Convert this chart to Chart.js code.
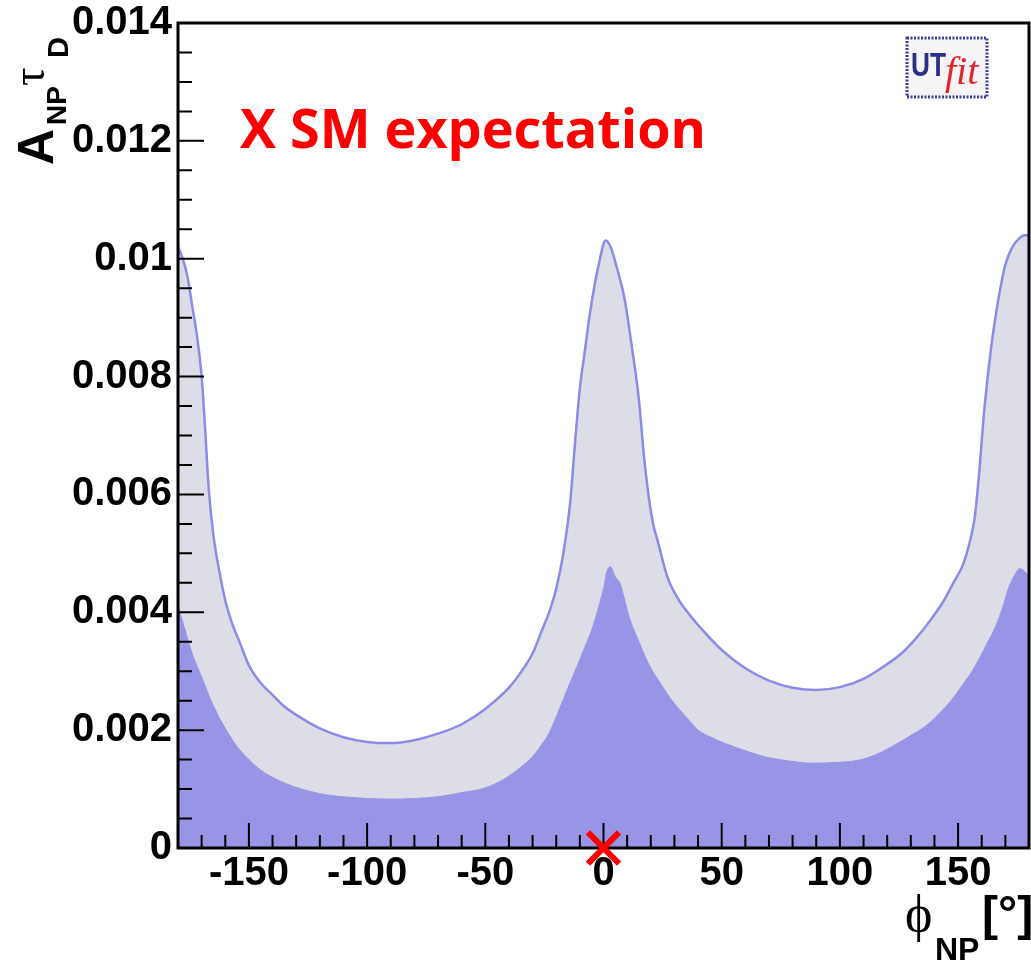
<!DOCTYPE html>
<html>
<head>
<meta charset="utf-8">
<script src="https://cdn.jsdelivr.net/npm/chart.js@4.4.1/dist/chart.umd.min.js"></script>
<style>
  html, body { margin: 0; padding: 0; background: #fff; }
  #phiPlot { display: block; }
</style>
</head>
<body>
<canvas id="phiPlot" width="1031" height="963" style="width:1031px;height:963px"></canvas>
<script>
// 95% probability region: upper edge of A_NP*tau_D vs phi_NP
const phi95 = [-180, -178, -176, -174, -172, -170, -168.5, -167, -165, -163, -160, -157, -154, -150,
  -145, -140, -135, -130, -120, -110, -100, -90, -80, -70, -60, -50, -40, -35, -30, -26, -23, -20,
  -17, -14, -12, -10, -8, -6, -4, -2, 0, 1, 3, 6, 9, 12, 15, 17, 19, 21, 23, 27, 32, 37, 43, 50,
  60, 70, 80, 90, 100, 110, 120, 126, 132, 138, 144, 148, 152, 155, 157, 159, 161, 164, 167, 170,
  173, 176, 178, 180];
const a95 = [0.0102, 0.0100, 0.0097, 0.0092, 0.0087, 0.0080, 0.0071, 0.0061, 0.0053, 0.0048, 0.0042,
  0.0038, 0.0035, 0.0031, 0.0028, 0.0026, 0.0024, 0.00226, 0.00203, 0.00188, 0.0018, 0.00178,
  0.00183, 0.00194, 0.0021, 0.00236, 0.00272, 0.00298, 0.0033, 0.0037, 0.0040, 0.0044, 0.0050,
  0.0059, 0.0069, 0.0078, 0.0084, 0.0090, 0.0095, 0.0099, 0.01025, 0.01031, 0.0102, 0.0098,
  0.0093, 0.0085, 0.0076, 0.0067, 0.0060, 0.0055, 0.0052, 0.0046, 0.0042, 0.00393, 0.00365,
  0.00336, 0.00305, 0.00284, 0.00272, 0.00268, 0.00273, 0.00287, 0.00312, 0.0033, 0.00355,
  0.00385, 0.0042, 0.0045, 0.0048, 0.0052, 0.0056, 0.0064, 0.0074, 0.0085, 0.0093, 0.0099,
  0.0102, 0.01035, 0.0104, 0.0104];

// 68% probability region
const phi68 = [-180, -177, -174, -170, -166, -162, -158, -155, -150, -145, -138, -131, -124, -117,
  -110, -100, -90, -80, -70, -60, -50, -42, -35, -30, -26, -23, -19, -15, -11, -8, -5, -2, 0, 1.5,
  3, 5, 7, 9, 11, 15, 19, 24, 29, 35, 40, 46, 51, 60, 68, 78, 88, 98, 108, 115, 122, 130, 136,
  142, 147, 152, 157, 162, 166, 169, 171.5, 174, 176, 178, 180];
const a68 = [0.0041, 0.0037, 0.0033, 0.0029, 0.0025, 0.00217, 0.0019, 0.00172, 0.0015, 0.00132,
  0.00116, 0.00104, 0.00096, 0.0009, 0.00087, 0.00084, 0.00083, 0.00084, 0.00087, 0.00094,
  0.00102, 0.00117, 0.00137, 0.00155, 0.00176, 0.00195, 0.00232, 0.00272, 0.0031, 0.0034,
  0.0037, 0.0041, 0.0044, 0.0047, 0.00477, 0.0046, 0.00449, 0.0042, 0.0039, 0.0035, 0.00313,
  0.0028, 0.0025, 0.00222, 0.002, 0.00187, 0.00178, 0.00165, 0.00155, 0.00148, 0.00144,
  0.00145, 0.00149, 0.00158, 0.00172, 0.00191, 0.00206, 0.00228, 0.0025, 0.00277, 0.00307,
  0.00345, 0.00377, 0.0041, 0.00443, 0.00463, 0.00474, 0.0047, 0.0046];

// Standard Model point
const smPhi = [0];
const smA = [0];

const xMajorStep = 50;
const yMajorStep = 0.002;

const toPoints = (xs, ys) => xs.map((x, i) => ({x: x, y: ys[i]}));
const isMajor = (v, step) => Math.abs(v / step - Math.round(v / step)) < 1e-6;

const LABEL_FONT = '"Liberation Sans", Arial, sans-serif';

// inward tick marks and the frame, drawn right after the filled bands
const frameAndTicks = {
  id: 'frameAndTicks',
  afterDatasetDraw(chart, args) {
    if (args.index !== 1) return;
    const {ctx, chartArea: a, scales: {x, y}} = chart;
    ctx.save();
    ctx.strokeStyle = '#000';
    ctx.lineWidth = 2;
    ctx.beginPath();
    x.ticks.forEach(t => {
      const px = x.getPixelForValue(t.value);
      const len = isMajor(t.value, xMajorStep) ? 25 : 13;
      ctx.moveTo(px, a.bottom);
      ctx.lineTo(px, a.bottom - len);
    });
    y.ticks.forEach(t => {
      const py = y.getPixelForValue(t.value);
      const len = isMajor(t.value, yMajorStep) ? 26 : 14;
      ctx.moveTo(a.left, py);
      ctx.lineTo(a.left + len, py);
    });
    ctx.stroke();
    ctx.lineWidth = 3;
    ctx.strokeRect(a.left, a.top, a.right - a.left, a.bottom - a.top);
    ctx.restore();
  }
};

// axis titles with sub/superscripts, the legend text and the logo
const annotations = {
  id: 'annotations',
  afterDraw(chart) {
    const ctx = chart.ctx;
    ctx.save();
    ctx.fillStyle = '#000';
    ctx.textBaseline = 'alphabetic';
    ctx.textAlign = 'left';

    // y title, rotated: A_NP tau_D
    ctx.save();
    ctx.rotate(-Math.PI / 2);
    ctx.font = 'bold 50px ' + LABEL_FONT;
    ctx.fillText('A', -165, 53);
    ctx.font = 'bold 28px ' + LABEL_FONT;
    ctx.fillText('NP', -125, 66);
    ctx.font = '46px "Liberation Serif", serif';
    ctx.fillText('τ', -86, 44);
    ctx.font = 'bold 29px ' + LABEL_FONT;
    ctx.fillText('D', -58, 68);
    ctx.restore();

    // x title: phi_NP [deg]
    ctx.font = '52px "Liberation Serif", serif';
    ctx.fillText('ϕ', 905, 931);
    ctx.font = 'bold 32px ' + LABEL_FONT;
    ctx.fillText('NP', 935, 960);
    ctx.font = 'bold 48px ' + LABEL_FONT;
    ctx.fillText('[°]', 982, 930);

    // legend entry
    ctx.fillStyle = '#ff0000';
    ctx.font = 'bold 54px "Open Sans", sans-serif';
    ctx.fillText('X SM expectation', 240, 148, 466);

    // UTfit logo
    ctx.fillStyle = '#f7f4f7';
    ctx.fillRect(907, 38, 80, 59);
    ctx.strokeStyle = '#3b3d96';
    ctx.lineWidth = 3;
    ctx.setLineDash([2, 1.5]);
    ctx.strokeRect(907, 38, 80, 59);
    ctx.setLineDash([]);
    ctx.fillStyle = '#2c2f86';
    ctx.font = 'bold 33px ' + LABEL_FONT;
    ctx.fillText('UT', 911, 76, 35);
    ctx.fillStyle = '#e0262a';
    ctx.font = 'italic 40px "Liberation Serif", serif';
    ctx.fillText('fit', 945, 84);
    ctx.restore();
  }
};

new Chart(document.getElementById('phiPlot'), {
  type: 'line',
  data: {
    datasets: [
      {
        label: '95%',
        data: toPoints(phi95, a95),
        backgroundColor: 'rgb(221, 221, 231)',
        borderColor: 'rgb(140, 140, 232)',
        borderWidth: 2.5,
        fill: 'origin',
        pointRadius: 0,
        cubicInterpolationMode: 'monotone',
        order: 3
      },
      {
        label: '68%',
        data: toPoints(phi68, a68),
        backgroundColor: 'rgb(152, 148, 230)',
        borderColor: 'rgb(152, 148, 230)',
        borderWidth: 1,
        fill: 'origin',
        pointRadius: 0,
        cubicInterpolationMode: 'monotone',
        order: 2
      },
      {
        label: 'SM',
        data: toPoints(smPhi, smA),
        showLine: false,
        pointStyle: 'crossRot',
        pointRadius: 22,
        pointBorderWidth: 6,
        pointBorderColor: '#ff0000',
        borderColor: '#ff0000',
        clip: false,
        order: 1
      }
    ]
  },
  options: {
    responsive: false,
    animation: false,
    layout: { autoPadding: false, padding: { top: 23, right: 2, left: 0, bottom: 0 } },
    plugins: {
      legend: { display: false },
      tooltip: { enabled: false }
    },
    scales: {
      x: {
        type: 'linear',
        min: -180,
        max: 180,
        afterFit: s => { s.height = 115; s.paddingLeft = 0; s.paddingRight = 0; },
        grid: { display: false, drawTicks: false },
        border: { display: false },
        ticks: {
          stepSize: 10,
          autoSkip: false,
          maxRotation: 0,
          maxTicksLimit: 100,
          padding: 2,
          color: '#000',
          font: { family: LABEL_FONT, size: 40, weight: 'bold' },
          callback: v => isMajor(v, xMajorStep) && Math.abs(v) < 180 ? String(Math.round(v)) : ''
        }
      },
      y: {
        min: 0,
        max: 0.014,
        afterFit: s => { s.width = 178; s.paddingTop = 0; s.paddingBottom = 0; },
        grid: { display: false, drawTicks: false },
        border: { display: false },
        ticks: {
          stepSize: 0.0005,
          autoSkip: false,
          maxTicksLimit: 100,
          padding: 6,
          color: '#000',
          font: { family: LABEL_FONT, size: 40, weight: 'bold' },
          callback: v => isMajor(v, yMajorStep) ? String(Number(v.toFixed(4))) : ''
        }
      }
    }
  },
  plugins: [frameAndTicks, annotations]
});
</script>
</body>
</html>
